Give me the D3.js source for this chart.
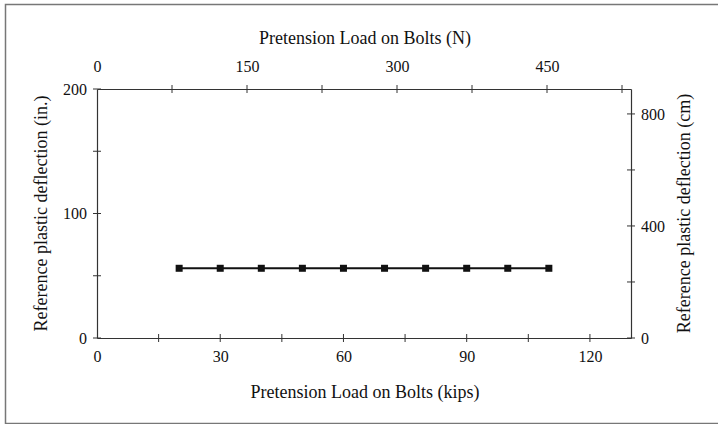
<!DOCTYPE html>
<html><head><meta charset="utf-8">
<script src="https://cdn.jsdelivr.net/npm/d3@7"></script>
<style>body{margin:0;background:#fff}svg{display:block}svg text{font-family:"Liberation Serif","Times New Roman",serif !important;fill:#111}</style>
</head><body><svg id="c" width="718" height="424"></svg>
<script>
const loadKips = [20, 30, 40, 50, 60, 70, 80, 90, 100, 110];
const deflectionIn = [56, 56, 56, 56, 56, 56, 56, 56, 56, 56];
const bottomTicks = [0, 30, 60, 90, 120];
const bottomMinor = [15, 45, 75, 105];
const topTicks = [0, 150, 300, 450];
const topMinor = [75, 225, 375, 525];
const leftTicks = [0, 100, 200];
const leftMinor = [50, 150];
const rightTicks = [0, 400, 800];
const rightMinor = [200, 600];

const FONT = "Liberation Serif, Times New Roman, serif";
const svg = d3.select("#c");
const L = 97, R = 631, T = 89, B = 338;
const x = d3.scaleLinear().domain([0, 130]).range([L, R]);
const xTop = d3.scaleLinear().domain([0, 534]).range([L, R]);
const y = d3.scaleLinear().domain([0, 200]).range([B, T]);
const yR = d3.scaleLinear().domain([0, 889]).range([B, T]);

// outer frame
svg.append("path").attr("d", `M718,4.5 H5.5 V423.5 H718`).attr("fill","none").attr("stroke","#777").attr("stroke-width",1.5);

function styleAxis(g){
  g.attr("font-family", FONT).attr("font-size", 16);
  g.select(".domain").attr("stroke","#333").attr("stroke-width",1.2);
  g.selectAll(".tick line").remove();
  g.selectAll(".tick text").attr("font-size",16).attr("font-family",FONT).attr("fill","#111");
}
function crossTicksH(scale, vals, yy){
  svg.append("g").selectAll("line").data(vals).join("line")
    .attr("x1",d=>scale(d)).attr("x2",d=>scale(d)).attr("y1",yy-4).attr("y2",yy+4)
    .attr("stroke","#333");
}
function crossTicksV(scale, vals, xx){
  svg.append("g").selectAll("line").data(vals).join("line")
    .attr("y1",d=>scale(d)).attr("y2",d=>scale(d)).attr("x1",xx-4).attr("x2",xx+4)
    .attr("stroke","#333");
}
// bottom
const gb = svg.append("g").attr("transform",`translate(0,${B})`)
  .call(d3.axisBottom(x).tickValues(bottomTicks).tickSizeInner(0).tickSizeOuter(0).tickPadding(13));
styleAxis(gb);
crossTicksH(x, bottomTicks.concat(bottomMinor).filter(d=>d>0), B);
// top
const gt = svg.append("g").attr("transform",`translate(0,${T})`)
  .call(d3.axisTop(xTop).tickValues(topTicks).tickSizeInner(0).tickSizeOuter(0).tickPadding(17));
styleAxis(gt);
crossTicksH(xTop, topTicks.concat(topMinor).filter(d=>d>0), T);
// left
const gl = svg.append("g").attr("transform",`translate(${L},0)`)
  .call(d3.axisLeft(y).tickValues(leftTicks).tickSizeInner(0).tickSizeOuter(0).tickPadding(10));
styleAxis(gl);
crossTicksV(y, leftTicks.concat(leftMinor), L);
// right
const gr = svg.append("g").attr("transform",`translate(${R},0)`)
  .call(d3.axisRight(yR).tickValues(rightTicks).tickSizeInner(0).tickSizeOuter(0).tickPadding(10));
styleAxis(gr);
crossTicksV(yR, rightTicks.concat(rightMinor), R);

// titles
function title(){ return svg.append("text").attr("font-family",FONT).attr("font-size",18).attr("text-anchor","middle"); }
title().attr("x",365).attr("y",44).text("Pretension Load on Bolts (N)");
title().attr("x",365).attr("y",398).text("Pretension Load on Bolts (kips)");
title().attr("transform",`translate(47,${(T+B)/2}) rotate(-90)`).text("Reference plastic deflection (in.)");
title().attr("transform",`translate(690,${(T+B)/2}) rotate(-90)`).text("Reference plastic deflection (cm)");

// series
const pts = loadKips.map((k,i)=>[k, deflectionIn[i]]);
svg.append("path").datum(pts).attr("fill","none").attr("stroke","#111").attr("stroke-width",2)
  .attr("d", d3.line().x(d=>x(d[0])).y(d=>y(d[1])));
svg.append("g").selectAll("rect").data(pts).join("rect")
  .attr("x",d=>x(d[0])-3.5).attr("y",d=>y(d[1])-3.5).attr("width",7).attr("height",7).attr("fill","#111");
</script></body></html>
